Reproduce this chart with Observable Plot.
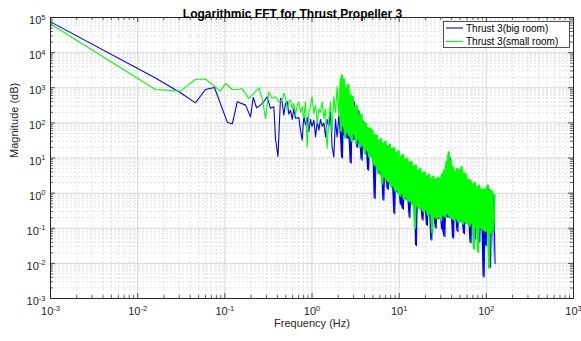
<!DOCTYPE html>
<html><head><meta charset="utf-8">
<script src="https://cdn.jsdelivr.net/npm/d3@7"></script>
<script src="https://cdn.jsdelivr.net/npm/@observablehq/plot@0.6"></script>
<style>body{margin:0;background:#fff;} svg{display:block;}</style>
</head><body><div id="chart"></div>
<script>
const title = "Logarithmic FFT for Thrust Propeller 3";
const xLabel = "Frequency (Hz)";
const yLabel = "Magnitude (dB)";
const seriesNames = ["Thrust 3(big room)", "Thrust 3(small room)"];
const seriesColors = ["#0000ff", "#00ff00"];
const xTicks = [1e-3, 1e-2, 1e-1, 1, 10, 100, 1000];
const xTickLabels = ["10^-3", "10^-2", "10^-1", "10^0", "10^1", "10^2", "10^3"];
const yTicks = [1e-3, 1e-2, 1e-1, 1, 10, 100, 1000, 1e4, 1e5];
const yTickLabels = ["10^-3", "10^-2", "10^-1", "10^0", "10^1", "10^2", "10^3", "10^4", "10^5"];

// low-frequency part (individually visible points)
const bigLowFreq = [0.001, 0.016, 0.031, 0.046, 0.060, 0.076, 0.107, 0.122, 0.139, 0.173, 0.197, 0.212, 0.231, 0.257, 0.280, 0.306, 0.334, 0.365, 0.381, 0.407, 0.435, 0.455, 0.475, 0.496, 0.52, 0.542, 0.567, 0.593, 0.618, 0.647, 0.706, 0.738, 0.772, 0.805, 0.842, 0.881, 0.919, 0.961, 1.0, 1.05, 1.10, 1.15, 1.20, 1.25, 1.31, 1.37, 1.43, 1.49, 1.56, 1.63, 1.70, 1.78, 1.86, 1.94, 2.03];
const bigLowMag = [75000, 1900, 720, 370, 890, 1020, 103, 94, 400, 320, 148, 530, 270, 320, 400, 550, 260, 286, 36, 11, 500, 400, 166, 355, 400, 178, 229, 126, 250, 135, 141, 62, 32, 158, 87, 141, 56, 126, 78, 120, 40, 112, 62, 126, 79, 100, 40, 126, 79, 200, 21, 10.7, 126, 40, 158];
const smallLowFreq = [0.001, 0.016, 0.031, 0.046, 0.060, 0.089, 0.102, 0.122, 0.145, 0.158, 0.188, 0.206, 0.246, 0.268, 0.293, 0.319, 0.349, 0.381, 0.416, 0.455, 0.475, 0.496, 0.52, 0.542, 0.567, 0.593, 0.618, 0.647, 0.676, 0.706, 0.738, 0.772, 0.805, 0.842, 0.881, 0.919, 0.961, 1.0, 1.05, 1.10, 1.15, 1.20, 1.25, 1.31, 1.37, 1.43, 1.49, 1.56, 1.63, 1.70, 1.78, 1.86, 1.94, 2.03];
const smallLowMag = [65000, 890, 800, 1720, 1780, 800, 1320, 890, 910, 955, 500, 615, 1000, 500, 134, 760, 500, 550, 400, 450, 700, 550, 229, 400, 450, 250, 355, 166, 316, 400, 200, 290, 135, 400, 21, 200, 280, 550, 186, 316, 95, 250, 200, 400, 135, 250, 19, 126, 400, 50, 550, 200, 1070, 158];

// dense part (2 Hz - 126 Hz), peaks and troughs read column by column
const denseFreq = [2.11,2.18,2.24,2.30,2.37,2.44,2.51,2.59,2.66,2.74,2.82,2.90,2.99,3.07,3.16,3.26,3.35,3.45,3.55,3.65,3.76,3.87,3.98,4.10,4.22,4.34,4.47,4.60,4.73,4.87,5.01,5.16,5.31,5.46,5.62,5.79,5.96,6.13,6.31,6.49,6.68,6.88,7.08,7.29,7.50,7.72,7.94,8.18,8.41,8.66,8.91,9.17,9.44,9.72,10.0,10.3,10.6,10.9,11.2,11.5,11.9,12.2,12.6,13.0,13.3,13.7,14.1,14.5,15.0,15.4,15.8,16.3,16.8,17.3,17.8,18.3,18.8,19.4,20.0,20.5,21.1,21.8,22.4,23.0,23.7,24.4,25.1,25.9,26.6,27.4,28.2,29.0,29.9,30.7,31.6,32.5,33.5,34.5,35.5,36.5,37.6,38.7,39.8,41.0,42.2,43.4,44.7,46.0,47.3,48.7,50.1,51.6,53.1,54.6,56.2,57.9,59.6,61.3,63.1,64.9,66.8,68.8,70.8,72.9,75.0,77.2,79.4,81.8,84.1,86.6,89.1,91.7,94.4,97.2,100,103,106,109,112,115,119,122,126];
const bigDense = [50,400,10,500,42,690,37,800,35,560,
7.1,450,34,400,32,250,20,224,26,126,
8.7,112,18,79,15,71,4.5,56,12,50,
10,45,0.7,35,5,32,3.9,28,3.2,25,
0.63,25,2.4,22,1.26,20,1.8,18,1.5,16,
0.26,14,1.1,12.6,
1.0,11,0.46,10,0.35,8.9,0.7,7.9,0.63,7.1,
0.2,6.3,0.5,5.6,0.5,5.0,0.032,4.5,0.42,4.0,
0.38,3.5,0.17,3.2,0.32,2.8,0.12,2.6,0.26,2.5,
0.046,2.4,0.22,2.4,0.1,2.2,0.19,2.3,0.18,2.6,
0.09,3.0,0.057,4.0,0.21,7.9,0.2,10,0.19,5.0,
0.052,4.0,0.18,3.5,0.08,3.5,0.16,4.0,0.15,3.5,
0.07,2.8,0.14,2.2,0.13,2.0,0.038,1.8,0.12,1.6,
0.05,1.4,0.11,1.3,0.04,1.26,0.095,1.1,0.0041,1.1,
0.032,1.26,0.083,1.26,0.0079,1.0,0.08,0.9,0.01];
const smallDense = [1600,56,2300,79,1800,35,1000,50,1260,40,
630,28,560,45,280,25,316,32,160,20,
178,22,100,12.6,100,16,71,10,71,11,
63,6.3,45,5.6,45,3.5,30,4.0,36,1.8,
25,2.8,30,2.2,20,2.0,25,1.4,18,1.5,
20,1.1,14,1.1,
16,0.8,11,0.9,12.6,0.63,9,0.7,10,0.56,
7.5,0.56,8,0.45,5.6,0.1,6.3,0.4,4.5,0.35,
5.0,0.35,3.7,0.28,4.0,0.32,3.0,0.22,3.5,0.25,
2.6,0.07,3.0,0.2,2.4,0.18,2.8,0.2,2.6,0.16,
3.5,0.22,4.5,0.2,7.9,0.25,15,0.2,8.9,0.18,
5.6,0.16,4.2,0.18,5.0,0.14,4.5,0.16,5.6,0.13,
3.8,0.14,3.5,0.13,2.4,0.11,2.4,0.13,1.8,0.025,
2.0,0.1,1.5,0.02,1.7,0.1,1.3,0.09,1.3,0.08,
1.3,0.08,1.7,0.0072,1.2,0.07,1.15,0.08,0.9];

const toRows = (fs, ms) => fs.map((f, i) => ({f, m: ms[i]}));
const bigRoom = toRows(bigLowFreq, bigLowMag).concat(toRows(denseFreq, bigDense));
const smallRoom = toRows(smallLowFreq, smallLowMag).concat(toRows(denseFreq, smallDense));
// band spanned by each adjacent peak/trough pair of the dense part (fills the densely packed spectrum)
const toBand = (fs, ms) => fs.slice(0, -1).map((f, i) => ({f, lo: Math.min(ms[i], ms[i + 1]), hi: Math.max(ms[i], ms[i + 1])}));
const bigBand = toBand(denseFreq, bigDense);
const smallBand = toBand(denseFreq, smallDense);

const W = 581, H = 341, mL = 50, mR = 8, mT = 17, mB = 43;
const pW = W - mL - mR, pH = H - mT - mB;
const minorOf = (ticks) => ticks.slice(0, -1).flatMap(t => [2,3,4,5,6,7,8,9].map(k => k * t));
const xMinor = minorOf(xTicks), yMinor = minorOf(yTicks);
const inner = (a) => a.slice(1, -1);
const axisCol = "#262626";

const chart = Plot.plot({
  width: W, height: H,
  marginLeft: mL, marginRight: mR, marginTop: mT, marginBottom: mB,
  x: {type: "log", domain: [1e-3, 1e3]},
  y: {type: "log", domain: [1e-3, 1e5]},
  style: {fontFamily: "'Liberation Sans', Arial, Helvetica, sans-serif", background: "#fff", overflow: "visible"},
  marks: [
    Plot.ruleX(xMinor, {stroke: "#d4d4d4", strokeWidth: 0.7, strokeDasharray: "2,2"}),
    Plot.ruleY(yMinor, {stroke: "#d4d4d4", strokeWidth: 0.7, strokeDasharray: "2,2"}),
    Plot.ruleX(inner(xTicks), {stroke: "#d2d2d2", strokeWidth: 0.9}),
    Plot.ruleY(inner(yTicks), {stroke: "#d2d2d2", strokeWidth: 0.9}),
    Plot.areaY(bigBand, {x: "f", y1: "lo", y2: "hi", fill: seriesColors[0]}),
    Plot.line(bigRoom, {x: "f", y: "m", stroke: seriesColors[0], strokeWidth: 1.1}),
    Plot.areaY(smallBand, {x: "f", y1: "lo", y2: "hi", fill: seriesColors[1]}),
    Plot.line(smallRoom, {x: "f", y: "m", stroke: seriesColors[1], strokeWidth: 1.1}),
    // inward ticks on all four sides
    Plot.ruleX(xTicks, {insetTop: pH - 5, stroke: axisCol, strokeWidth: 0.8}),
    Plot.ruleX(xTicks, {insetBottom: pH - 5, stroke: axisCol, strokeWidth: 0.8}),
    Plot.ruleX(xMinor, {insetTop: pH - 3, stroke: axisCol, strokeWidth: 0.7}),
    Plot.ruleX(xMinor, {insetBottom: pH - 3, stroke: axisCol, strokeWidth: 0.7}),
    Plot.ruleY(yTicks, {insetRight: pW - 5, stroke: axisCol, strokeWidth: 0.8}),
    Plot.ruleY(yTicks, {insetLeft: pW - 5, stroke: axisCol, strokeWidth: 0.8}),
    Plot.ruleY(yMinor, {insetRight: pW - 3, stroke: axisCol, strokeWidth: 0.7}),
    Plot.ruleY(yMinor, {insetLeft: pW - 3, stroke: axisCol, strokeWidth: 0.7}),
    Plot.frame({stroke: axisCol, strokeWidth: 1}),
    Plot.axisX({anchor: "bottom", ticks: xTicks, tickSize: 0, tickPadding: 9, label: null, fontSize: 11, fill: axisCol,
      tickFormat: d => xTickLabels[xTicks.indexOf(d)]}),
    Plot.axisY({anchor: "left", ticks: yTicks, tickSize: 0, tickPadding: 5, label: null, fontSize: 11, fill: axisCol, dy: 3,
      tickFormat: d => yTickLabels[yTicks.indexOf(d)]}),
    Plot.text([title], {text: d => d, frameAnchor: "top", dy: -8.5, dx: -19.5, fontWeight: "bold", fontSize: 12, fill: "#000"}),
    Plot.text([xLabel], {text: d => d, frameAnchor: "bottom", dy: 28.5, fontSize: 11, fill: axisCol}),
    Plot.text([yLabel], {text: d => d, frameAnchor: "left", dx: -36, rotate: -90, fontSize: 11, fill: axisCol})
  ]
});

// superscript exponents in tick labels
chart.querySelectorAll('g[aria-label="x-axis tick label"] text, g[aria-label="y-axis tick label"] text').forEach(t => {
  const parts = t.textContent.split("^");
  if (parts.length !== 2) return;
  t.textContent = parts[0];
  const ts = document.createElementNS("http://www.w3.org/2000/svg", "tspan");
  ts.setAttribute("dy", "-4.5");
  ts.setAttribute("font-size", "7.5");
  ts.textContent = parts[1];
  t.appendChild(ts);
});

// legend
const svg = d3.select(chart);
const lg = svg.append("g").attr("font-family", "'Liberation Sans', Arial, sans-serif").attr("font-size", 10).attr("text-anchor", "start");
lg.append("rect").attr("x", 443.5).attr("y", 21.5).attr("width", 126).attr("height", 26)
  .attr("fill", "#fff").attr("stroke", axisCol).attr("stroke-width", 0.8);
seriesNames.forEach((name, i) => {
  const cy = 28 + i * 13.5;
  lg.append("line").attr("x1", 446).attr("x2", 463).attr("y1", cy).attr("y2", cy)
    .attr("stroke", seriesColors[i]).attr("stroke-width", 1.1);
  lg.append("text").attr("x", 466).attr("y", cy + 3.5).attr("text-anchor", "start").attr("fill", "#000").text(name);
});

document.getElementById("chart").appendChild(chart);
</script>
</body></html>
